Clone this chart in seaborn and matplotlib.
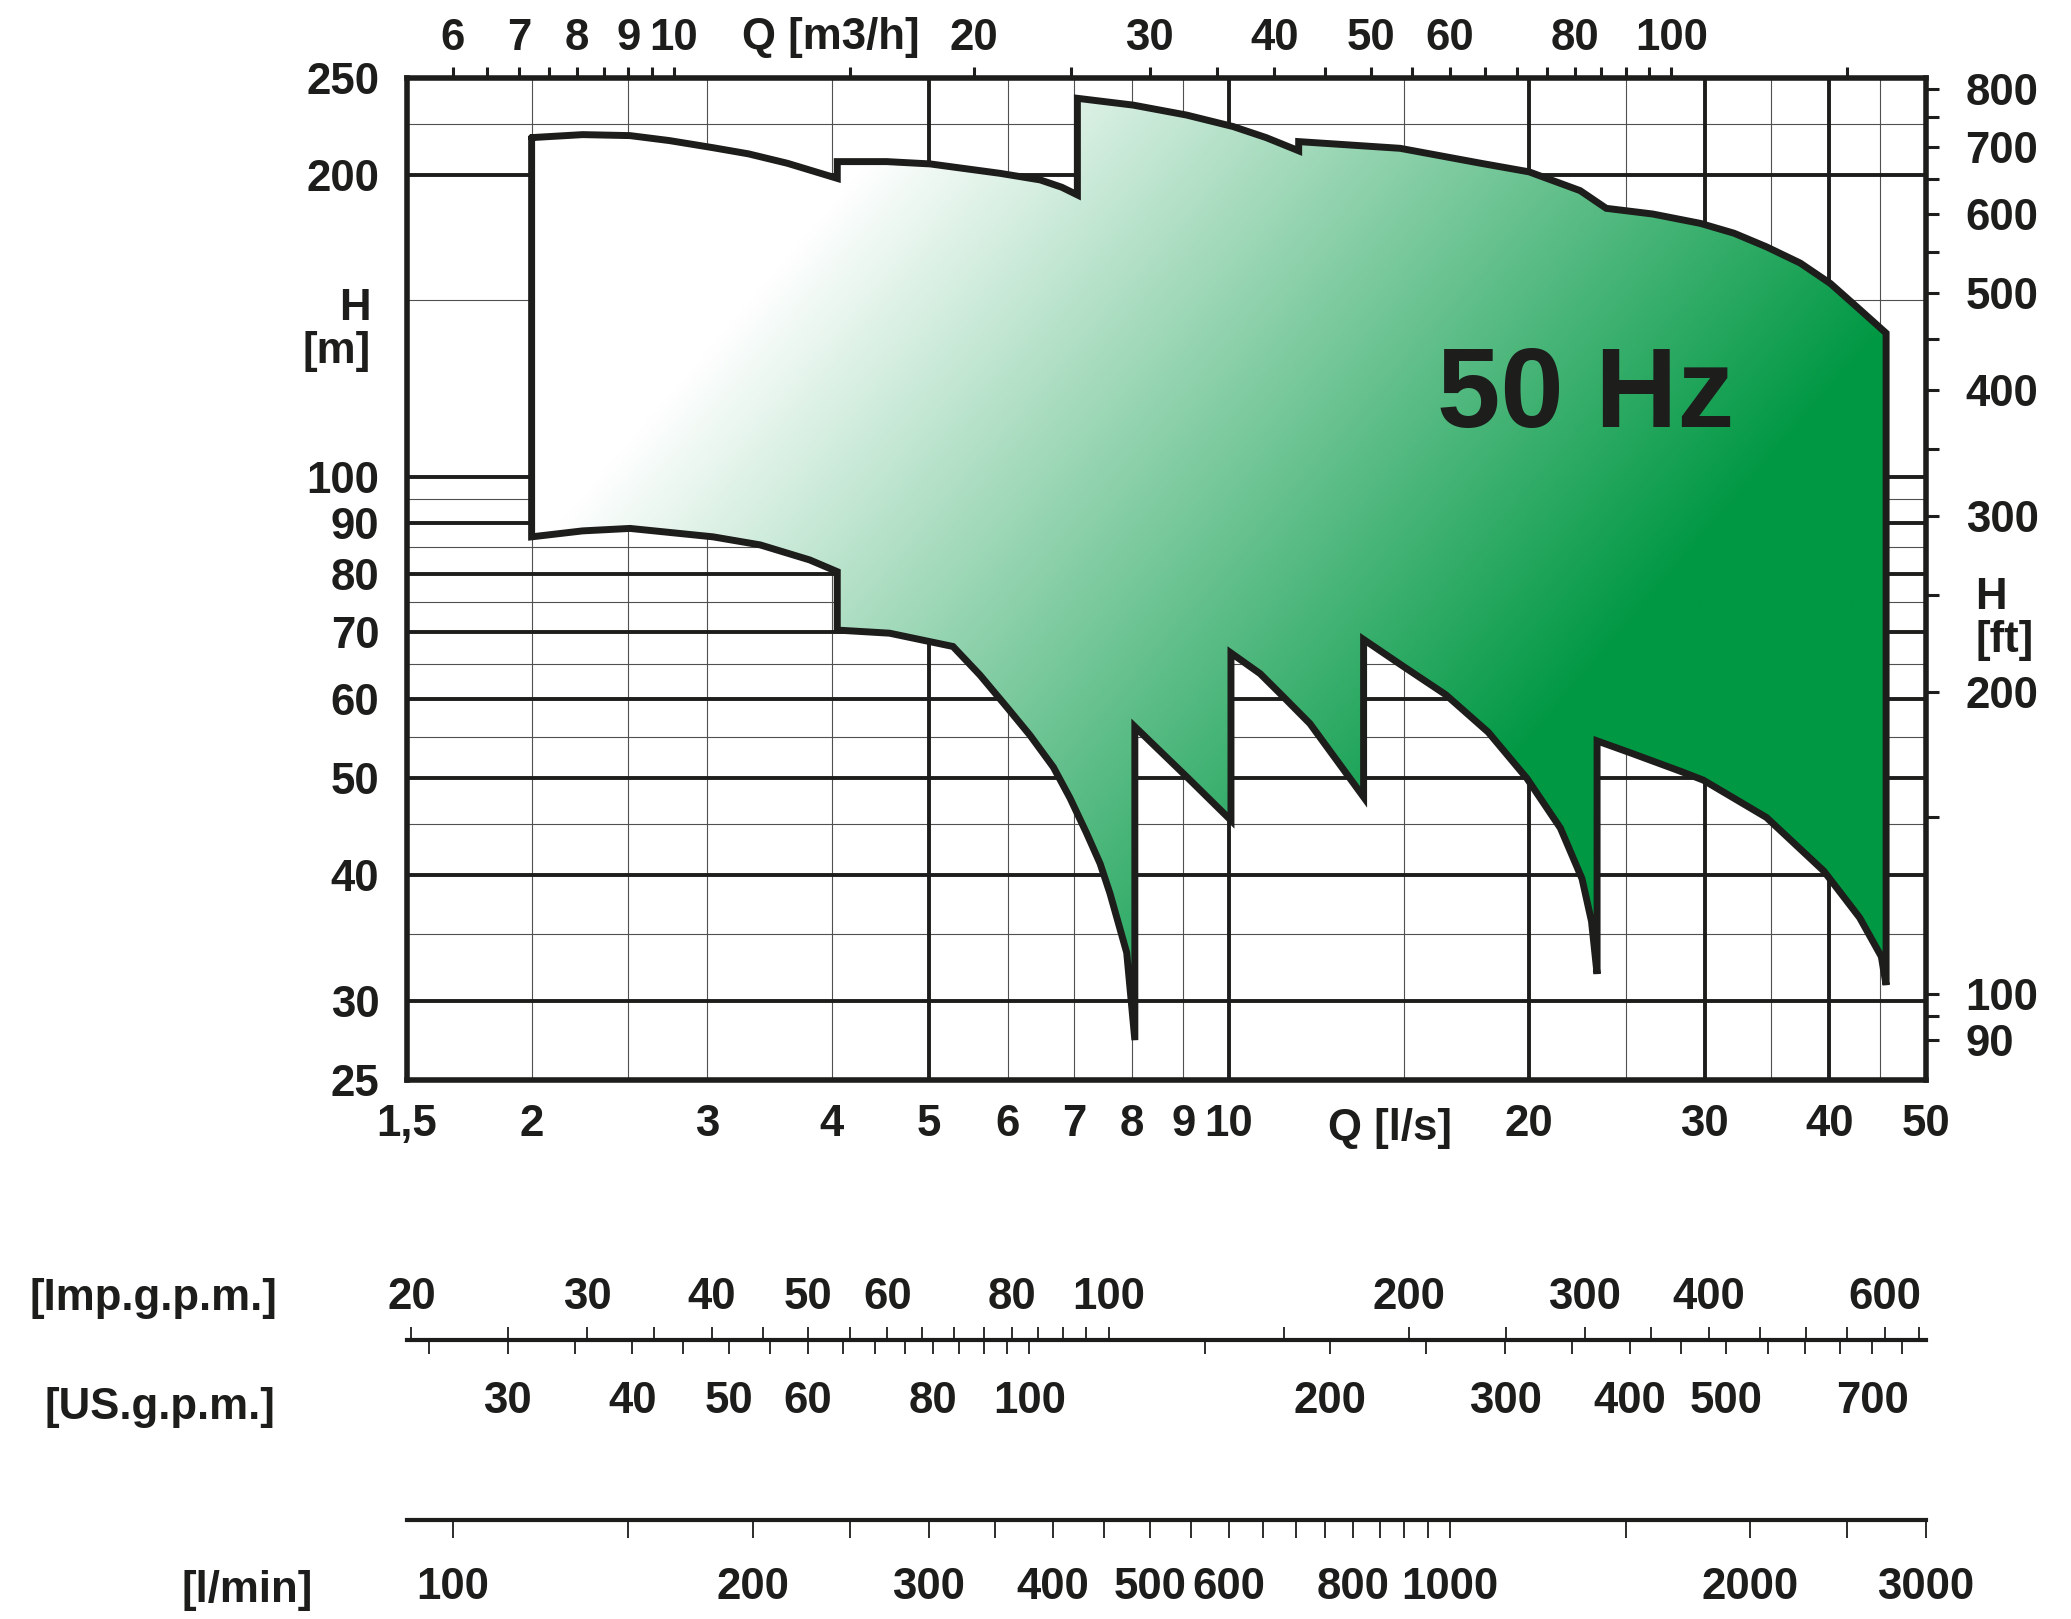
import numpy as np
import matplotlib
matplotlib.use('Agg')
import matplotlib.pyplot as plt
from matplotlib.colors import LinearSegmentedColormap
from matplotlib.patches import Polygon
from matplotlib.ticker import NullLocator
import seaborn as sns

# outline of the 50 Hz range, clockwise from top-left: Q [l/s], H [m]
env_q = [2.0, 2.25, 2.51, 2.75, 3.04, 3.3, 3.61, 4.05,
         4.05, 4.54, 5.02, 5.90, 6.47, 6.8, 7.05,
         7.05, 8.02, 9.07, 10.1, 10.9, 11.75,
         11.75, 14.85, 17.9, 20.0, 22.5, 23.9,
         26.6, 29.7, 32.1, 34.6, 37.4, 40.1, 42.6, 45.6,
         45.6, 45.1, 42.9, 39.5, 34.6, 29.9, 28.4, 25.3, 23.4,
         23.4, 23.1, 22.6, 21.5, 19.9, 18.2, 16.5, 14.95, 13.65,
         13.65, 12.06, 11.25, 10.75, 10.05,
         10.05, 9.07, 8.05,
         8.05, 7.90, 7.60, 7.43, 7.20, 6.93, 6.67, 6.32, 5.99, 5.63, 5.29, 4.57, 4.05,
         4.05, 3.80, 3.39, 3.04, 2.51, 2.25, 2.0]
env_h = [218, 219.5, 219, 216.5, 213, 210, 205.5, 198.5,
         206.3, 206.3, 205.2, 200.8, 197.8, 194.5, 191.1,
         238.6, 234.9, 229.6, 223.6, 218, 211.5,
         216, 212.7, 205.5, 201.5, 193, 185.3,
         182.9, 179, 175, 169.6, 163.4, 155.9, 147.8, 139.1,
         31.1, 33.2, 36.3, 40.4, 45.7, 49.8, 50.8, 53.0, 54.5,
         31.9, 36.0, 39.7, 44.6, 50.0, 55.6, 60.6, 64.7, 68.8,
         47.9, 56.7, 60.8, 63.6, 66.7,
         45.4, 50.2, 56.3,
         27.4, 33.5, 38.4, 41.1, 44.1, 47.8, 51.3, 55.2, 58.9, 63.4, 67.7, 69.8, 70.3,
         80.4, 82.6, 85.5, 87.1, 88.8, 88.3, 87.1]

q_lim = (1.5, 50)
h_lim = (25, 250)

grid_q_major = [5, 10, 20, 30, 40]
grid_q_minor = [2, 2.5, 3, 4, 6, 7, 8, 9, 15, 25, 35, 45]
grid_h_major = [30, 40, 50, 60, 70, 80, 90, 100, 200]
grid_h_minor = [35, 45, 55, 65, 75, 85, 95, 150, 225]

q_ticks = [1.5, 2, 3, 4, 5, 6, 7, 8, 9, 10, 20, 30, 40, 50]
q_labels = ['1,5', '2', '3', '4', '5', '6', '7', '8', '9', '10', '20', '30', '40', '50']
h_ticks = [25, 30, 40, 50, 60, 70, 80, 90, 100, 200, 250]

m3h_ticks = [6, 6.5, 7, 7.5, 8, 8.5, 9, 9.5, 10, 15] + list(range(20, 101, 5)) + [150]
m3h_labeled = [6, 7, 8, 9, 10, 20, 30, 40, 50, 60, 80, 100]
ft_ticks = [90, 95] + list(range(100, 801, 50))
ft_labeled = [90, 100, 200, 300, 400, 500, 600, 700, 800]
imp_ticks = list(range(20, 101, 5)) + list(range(150, 651, 50))
imp_labeled = [20, 30, 40, 50, 60, 80, 100, 200, 300, 400, 600]
us_ticks = list(range(25, 101, 5)) + list(range(150, 751, 50))
us_labeled = [30, 40, 50, 60, 80, 100, 200, 300, 400, 500, 700]
lmin_ticks = list(range(100, 1001, 50)) + [1500, 2000, 2500, 3000]
lmin_labeled = [100, 200, 300, 400, 500, 600, 800, 1000, 2000, 3000]

M3H, IMP, USG, LMIN, FT = 3.6, 13.198, 15.850, 60.0, 0.3048

sns.set_theme(style='white')
plt.rcParams['font.family'] = ['Liberation Sans', 'DejaVu Sans']
plt.rcParams['font.weight'] = 'bold'

ink = '#1d1d1b'
FS = 31.5
W, H = 2071, 1619
fig = plt.figure(figsize=(W / 100, H / 100), dpi=100)


def rect(x0, y0, x1, y1):
    return [x0 / W, 1 - y1 / H, (x1 - x0) / W, (y1 - y0) / H]


def lab(ticks, shown):
    return [str(t) if t in shown else '' for t in ticks]


ax = fig.add_axes(rect(407, 78, 1926, 1080))
ax.set_xscale('log')
ax.set_yscale('log')
ax.set_xlim(q_lim)
ax.set_ylim(h_lim)
ax.set_autoscale_on(False)

ax.vlines(grid_q_minor, *h_lim, color='#505050', lw=0.8, zorder=1)
ax.hlines(grid_h_minor, *q_lim, color='#505050', lw=0.8, zorder=1)
ax.vlines(grid_q_major, *h_lim, color=ink, lw=2.8, zorder=1)
ax.hlines(grid_h_major, *q_lim, color=ink, lw=2.8, zorder=1)

# diagonal white -> green shading, clipped to the envelope
u = np.linspace(0, 1, 600)
v = np.linspace(0, 1, 400)
U, V = np.meshgrid(u, v)
shade = np.clip((0.76 * (407 + 1519 * U) + 0.65 * (78 + 1002 * V) - 763) / 887, 0, 1)
cmap = LinearSegmentedColormap.from_list('shade', ['#ffffff', '#009843'])
img = ax.imshow(shade, cmap=cmap, vmin=0, vmax=1, extent=(0, 1, 0, 1),
                transform=ax.transAxes, origin='upper', aspect='auto',
                interpolation='bilinear', zorder=2)
env = Polygon(np.column_stack([env_q, env_h]), closed=True,
              transform=ax.transData, facecolor='none', edgecolor='none')
ax.add_patch(env)
img.set_clip_path(env)

sns.lineplot(x=env_q + env_q[:1], y=env_h + env_h[:1], sort=False, estimator=None,
             color=ink, lw=5, solid_joinstyle='miter', ax=ax, zorder=3)
ax.set_xlabel('')
ax.set_ylabel('')
ax.set_xlim(q_lim)
ax.set_ylim(h_lim)

ax.text(22.8, 112, '50 Hz', ha='center', va='baseline', fontsize=82,
        fontweight='bold', color=ink, zorder=5)

ax.set_xticks(q_ticks, labels=q_labels)
ax.set_yticks(h_ticks, labels=[str(h) for h in h_ticks])
ax.xaxis.set_minor_locator(NullLocator())
ax.yaxis.set_minor_locator(NullLocator())
ax.tick_params(axis='both', which='both', length=0, labelsize=FS, colors=ink)
ax.tick_params(axis='x', pad=17)
ax.tick_params(axis='y', pad=20)
for s in ax.spines.values():
    s.set_linewidth(4)
    s.set_color(ink)

ax_top = ax.twiny()
ax_top.set_xscale('log')
ax_top.set_xlim(q_lim[0] * M3H, q_lim[1] * M3H)
ax_top.set_xticks(m3h_ticks, labels=lab(m3h_ticks, m3h_labeled))
ax_top.xaxis.set_minor_locator(NullLocator())
ax_top.tick_params(axis='x', which='major', direction='out', length=8, width=2.2,
                   labelsize=FS, pad=6, colors=ink)
for s in ax_top.spines.values():
    s.set_visible(False)

ax_r = ax.twinx()
ax_r.set_yscale('log')
ax_r.set_ylim(h_lim[0] / FT, h_lim[1] / FT)
ax_r.set_yticks(ft_ticks, labels=lab(ft_ticks, ft_labeled))
ax_r.yaxis.set_minor_locator(NullLocator())
ax_r.tick_params(axis='y', which='major', direction='out', length=9.5, width=2.2,
                 labelsize=FS, pad=19, colors=ink)
for s in ax_r.spines.values():
    s.set_visible(False)

fig.text(831 / W, 1 - 38 / H, 'Q [m3/h]', ha='center', va='center', fontsize=FS, color=ink)
fig.text(1390 / W, 1 - 1128 / H, 'Q [l/s]', ha='center', va='center', fontsize=FS, color=ink)
fig.text(371 / W, 1 - 330 / H, 'H\n[m]', ha='right', va='center', multialignment='right',
         linespacing=1.05, fontsize=FS, color=ink)
fig.text(1975 / W, 1 - 619 / H, 'H\n[ft]', ha='left', va='center', multialignment='left',
         linespacing=1.05, fontsize=FS, color=ink)


def scale_axis(y_px, factor, ticks, shown, side, length, pad, spine):
    a = fig.add_axes(rect(407, y_px, 1926, y_px + 0.5))
    a.patch.set_visible(False)
    a.set_xscale('log')
    a.set_xlim(q_lim[0] * factor, q_lim[1] * factor)
    a.set_yticks([])
    a.set_xticks(ticks, labels=lab(ticks, shown))
    a.xaxis.set_minor_locator(NullLocator())
    top = side == 'top'
    a.tick_params(axis='x', which='major', top=top, labeltop=top, bottom=not top,
                  labelbottom=not top, direction='out', length=length, width=1.3,
                  labelsize=FS, pad=pad, colors=ink)
    for name, s in a.spines.items():
        s.set_visible(spine and name == 'bottom')
        s.set_linewidth(3)
        s.set_color(ink)
    return a


scale_axis(1339, IMP, imp_ticks, imp_labeled, 'top', 9, 6, True)
scale_axis(1339, USG, us_ticks, us_labeled, 'bottom', 10, 20, False)
scale_axis(1519, LMIN, lmin_ticks, lmin_labeled, 'bottom', 13, 21, True)

fig.text(277 / W, 1 - 1298 / H, '[Imp.g.p.m.]', ha='right', va='center', fontsize=FS, color=ink)
fig.text(275 / W, 1 - 1407 / H, '[US.g.p.m.]', ha='right', va='center', fontsize=FS, color=ink)
fig.text(313 / W, 1 - 1590 / H, '[l/min]', ha='right', va='center', fontsize=FS, color=ink)

fig.savefig('out.png', dpi=100)
